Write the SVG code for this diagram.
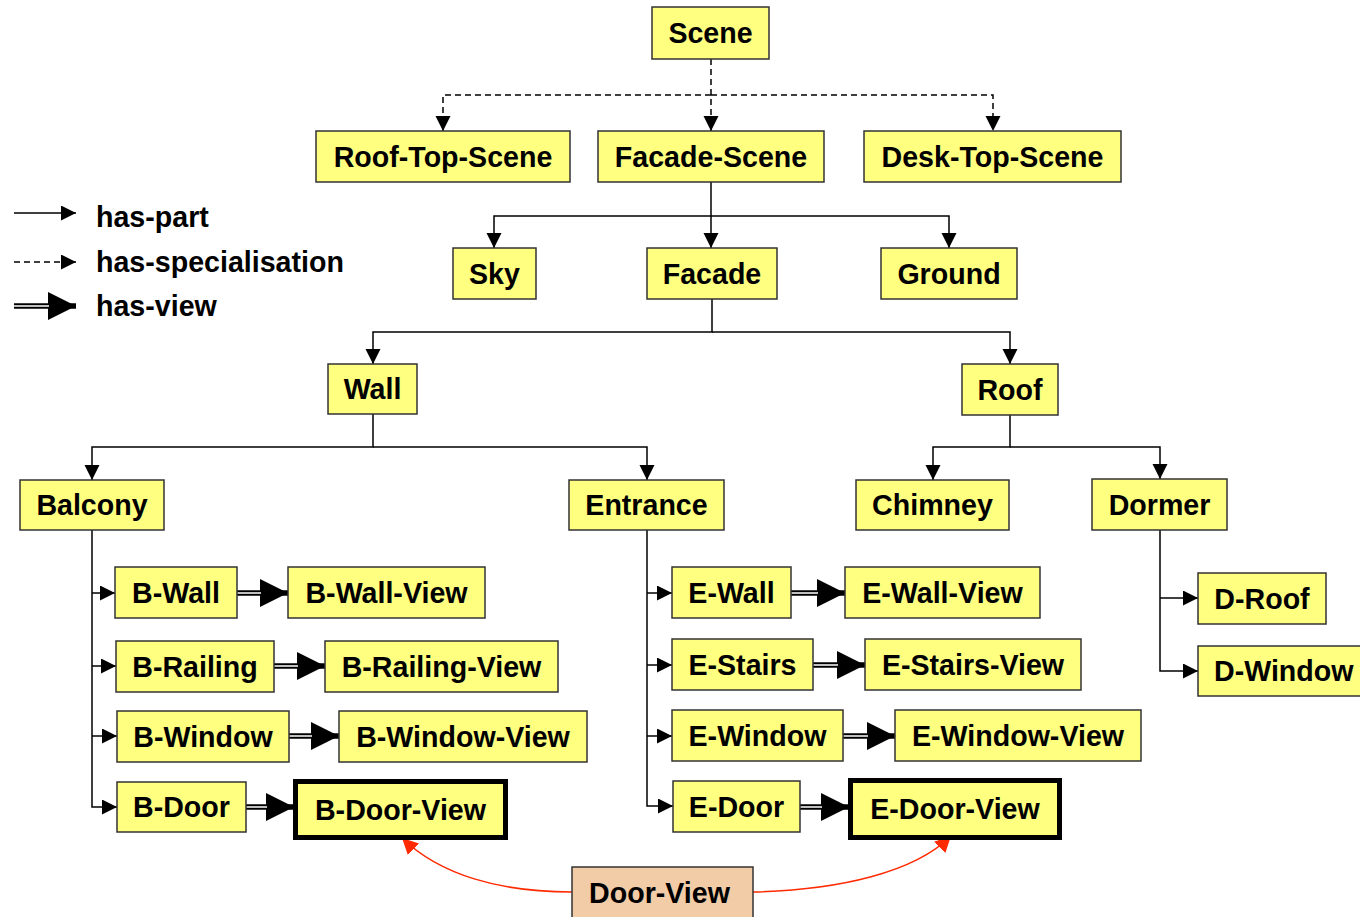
<svg xmlns="http://www.w3.org/2000/svg" width="1360" height="917" viewBox="0 0 1360 917">
  <style>
    .box { fill: #FFFF80; stroke: #333; stroke-width: 1.5; }
    .thick { fill: #FFFF80; stroke: #000; stroke-width: 5; }
    .peach { fill: #F2CCA6; stroke: #333; stroke-width: 1.5; }
    text { font-family: "Liberation Sans", Arial, sans-serif; font-weight: bold; font-size: 28.6px; fill: #000; }
    .lbl { text-anchor: middle; }
    .part { fill: none; stroke: #000; stroke-width: 1.5; marker-end: url(#arrow); }
    .spec { fill: none; stroke: #000; stroke-width: 1.5; stroke-dasharray: 6 4; marker-end: url(#arrow); }
    .viewOuter { fill: none; stroke: #000; stroke-width: 5.5; marker-end: url(#bigArrow); }
    .viewInner { fill: none; stroke: #fff; stroke-width: 1.5; }
    .red { fill: none; stroke: #FF2A00; stroke-width: 1.5; marker-end: url(#redArrow); }
  </style>
  <defs>
    <marker id="arrow" markerUnits="userSpaceOnUse" markerWidth="16" markerHeight="16" refX="15" refY="7.5" orient="auto">
      <path d="M0,0 L15,7.5 L0,15 z" fill="#000"/>
    </marker>
    <marker id="bigArrow" markerUnits="userSpaceOnUse" markerWidth="30" markerHeight="30" refX="28" refY="14" orient="auto">
      <path d="M0,0 L28,14 L0,28 z" fill="#000"/>
    </marker>
    <marker id="redArrow" markerUnits="userSpaceOnUse" markerWidth="18" markerHeight="18" refX="16" refY="8" orient="auto">
      <path d="M0,0 L16,8 L0,16 z" fill="#FF2A00"/>
    </marker>
  </defs>

  <rect width="1360" height="917" fill="#fff"/>

  <!-- legend -->
  <g id="legend">
    <path class="part" d="M14,213 H76"/>
    <text x="96" y="227">has-part</text>
    <path class="spec" d="M14,262 H76"/>
    <text x="96" y="272">has-specialisation</text>
    <path class="viewOuter" d="M14,306 H76"/>
    <path class="viewInner" d="M14,306 H49"/>
    <text x="96" y="316">has-view</text>
  </g>

  <!-- connectors -->
  <g id="connectors">
    <!-- specialisation -->
    <path class="spec" d="M711,59 V131"/>
    <path class="spec" d="M711,95 H443 V131"/>
    <path class="spec" d="M711,95 H993 V131"/>
    <!-- has-part -->
    <path class="part" d="M711,182 V248"/>
    <path class="part" d="M711,216 H494 V248"/>
    <path class="part" d="M711,216 H949 V248"/>
    <path class="part" d="M712,299 V332 H373 V364"/>
    <path class="part" d="M712,332 H1010 V364"/>
    <path class="part" d="M373,414 V447 H92 V480"/>
    <path class="part" d="M373,447 H647 V480"/>
    <path class="part" d="M1010,415 V447 H933 V480"/>
    <path class="part" d="M1010,447 H1160 V479"/>
    <path class="part" d="M92,530 V807 H117"/>
    <path class="part" d="M92,593 H115"/>
    <path class="part" d="M92,666 H116"/>
    <path class="part" d="M92,736 H117"/>
    <path class="part" d="M647,530 V806 H673"/>
    <path class="part" d="M647,593 H672"/>
    <path class="part" d="M647,665 H672"/>
    <path class="part" d="M647,736 H672"/>
    <path class="part" d="M1160,530 V671 H1198"/>
    <path class="part" d="M1160,598 H1198"/>
    <!-- has-view -->
    <path class="viewOuter" d="M237,593 H288"/><path class="viewInner" d="M237,593 H261"/>
    <path class="viewOuter" d="M274,666 H325"/><path class="viewInner" d="M274,666 H298"/>
    <path class="viewOuter" d="M289,736 H339"/><path class="viewInner" d="M289,736 H312"/>
    <path class="viewOuter" d="M246,807 H294"/><path class="viewInner" d="M246,807 H267"/>
    <path class="viewOuter" d="M791,593 H845"/><path class="viewInner" d="M791,593 H818"/>
    <path class="viewOuter" d="M813,665 H865"/><path class="viewInner" d="M813,665 H838"/>
    <path class="viewOuter" d="M843,736 H895"/><path class="viewInner" d="M843,736 H868"/>
    <path class="viewOuter" d="M800,807 H849"/><path class="viewInner" d="M800,807 H822"/>
    <!-- door view links -->
    <path class="red" d="M572,892 C500,892 440,875 402,838"/>
    <path class="red" d="M753,892 C840,890 915,872 951,836"/>
  </g>

  <!-- nodes -->
  <g id="scene"><rect class="box" x="652" y="7" width="117" height="52"/><text class="lbl" x="710.5" y="43">Scene</text></g>
  <g id="roof-top-scene"><rect class="box" x="316" y="131" width="254" height="51"/><text class="lbl" x="443" y="166.5">Roof-Top-Scene</text></g>
  <g id="facade-scene"><rect class="box" x="598" y="131" width="226" height="51"/><text class="lbl" x="711" y="166.5">Facade-Scene</text></g>
  <g id="desk-top-scene"><rect class="box" x="864" y="131" width="257" height="51"/><text class="lbl" x="992.5" y="166.5">Desk-Top-Scene</text></g>
  <g id="sky"><rect class="box" x="453" y="248" width="83" height="51"/><text class="lbl" x="494.5" y="283.5">Sky</text></g>
  <g id="facade"><rect class="box" x="647" y="248" width="130" height="51"/><text class="lbl" x="712" y="283.5">Facade</text></g>
  <g id="ground"><rect class="box" x="881" y="248" width="136" height="51"/><text class="lbl" x="949" y="283.5">Ground</text></g>
  <g id="wall"><rect class="box" x="328" y="364" width="89" height="50"/><text class="lbl" x="372.5" y="399">Wall</text></g>
  <g id="roof"><rect class="box" x="962" y="364" width="96" height="51"/><text class="lbl" x="1010" y="399.5">Roof</text></g>
  <g id="balcony"><rect class="box" x="20" y="480" width="144" height="50"/><text class="lbl" x="92" y="515">Balcony</text></g>
  <g id="entrance"><rect class="box" x="569" y="480" width="155" height="50"/><text class="lbl" x="646.5" y="515">Entrance</text></g>
  <g id="chimney"><rect class="box" x="856" y="480" width="153" height="50"/><text class="lbl" x="932.5" y="515">Chimney</text></g>
  <g id="dormer"><rect class="box" x="1092" y="479" width="135" height="51"/><text class="lbl" x="1159.5" y="514.5">Dormer</text></g>

  <g id="b-wall"><rect class="box" x="115" y="567" width="122" height="51"/><text class="lbl" x="176" y="602.5">B-Wall</text></g>
  <g id="b-wall-view"><rect class="box" x="288" y="567" width="197" height="51"/><text class="lbl" x="386.5" y="602.5">B-Wall-View</text></g>
  <g id="b-railing"><rect class="box" x="116" y="641" width="158" height="51"/><text class="lbl" x="195" y="676.5">B-Railing</text></g>
  <g id="b-railing-view"><rect class="box" x="325" y="641" width="233" height="51"/><text class="lbl" x="441.5" y="676.5">B-Railing-View</text></g>
  <g id="b-window"><rect class="box" x="117" y="711" width="172" height="51"/><text class="lbl" x="203" y="746.5">B-Window</text></g>
  <g id="b-window-view"><rect class="box" x="339" y="711" width="248" height="51"/><text class="lbl" x="463" y="746.5">B-Window-View</text></g>
  <g id="b-door"><rect class="box" x="117" y="782" width="129" height="50"/><text class="lbl" x="181.5" y="817">B-Door</text></g>
  <g id="b-door-view"><rect class="thick" x="295.5" y="781.5" width="210" height="56"/><text class="lbl" x="400.5" y="819.5">B-Door-View</text></g>

  <g id="e-wall"><rect class="box" x="672" y="567" width="119" height="51"/><text class="lbl" x="731.5" y="602.5">E-Wall</text></g>
  <g id="e-wall-view"><rect class="box" x="845" y="567" width="195" height="51"/><text class="lbl" x="942.5" y="602.5">E-Wall-View</text></g>
  <g id="e-stairs"><rect class="box" x="672" y="639" width="141" height="51"/><text class="lbl" x="742.5" y="674.5">E-Stairs</text></g>
  <g id="e-stairs-view"><rect class="box" x="865" y="639" width="216" height="51"/><text class="lbl" x="973" y="674.5">E-Stairs-View</text></g>
  <g id="e-window"><rect class="box" x="672" y="710" width="171" height="51"/><text class="lbl" x="757.5" y="745.5">E-Window</text></g>
  <g id="e-window-view"><rect class="box" x="895" y="710" width="246" height="51"/><text class="lbl" x="1018" y="745.5">E-Window-View</text></g>
  <g id="e-door"><rect class="box" x="673" y="781" width="127" height="51"/><text class="lbl" x="736.5" y="816.5">E-Door</text></g>
  <g id="e-door-view"><rect class="thick" x="850.5" y="780.5" width="209" height="57"/><text class="lbl" x="955" y="819">E-Door-View</text></g>

  <g id="d-roof"><rect class="box" x="1198" y="573" width="128" height="51"/><text class="lbl" x="1262" y="608.5">D-Roof</text></g>
  <g id="d-window"><rect class="box" x="1198" y="646" width="170" height="50"/><text x="1214" y="681">D-Window</text></g>

  <g id="door-view"><rect class="peach" x="572" y="867" width="181" height="54"/><text class="lbl" x="659.5" y="903">Door-View</text></g>
</svg>
